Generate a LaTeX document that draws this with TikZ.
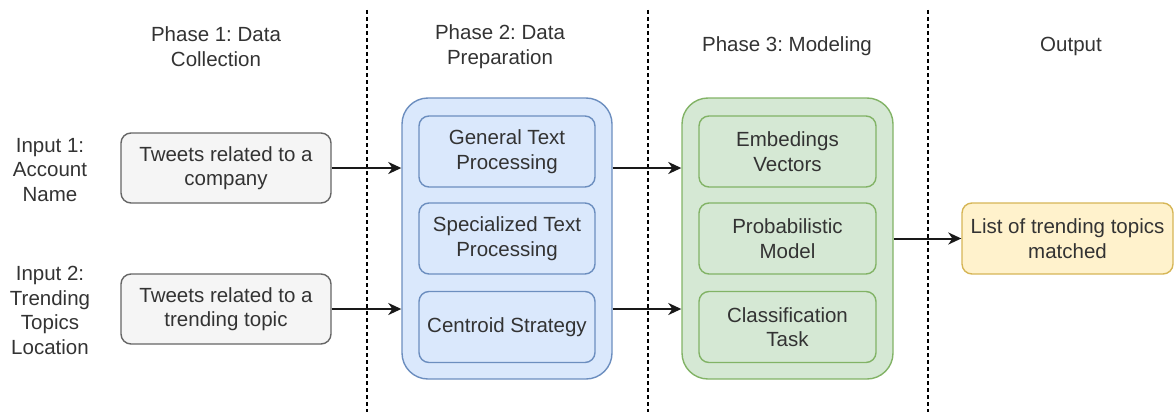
\documentclass[tikz,border=0pt]{standalone}
\usepackage{fontspec}
\setmainfont{Liberation Sans}
\usetikzlibrary{arrows.meta}

\definecolor{tweetfill}{HTML}{F5F5F5}
\definecolor{tweetline}{HTML}{666666}
\definecolor{prepfill}{HTML}{DAE8FC}
\definecolor{prepline}{HTML}{6C8EBF}
\definecolor{modelfill}{HTML}{D5E8D4}
\definecolor{modelline}{HTML}{82B366}
\definecolor{outfill}{HTML}{FFF2CC}
\definecolor{outline}{HTML}{D6B656}
\definecolor{ink}{HTML}{333333}

\frenchspacing
\tikzset{
  every node/.style={font=\fontsize{20.5}{24.5}\selectfont, text=ink, align=center, inner sep=0pt},
  box/.style={draw, line width=1.4pt, rounded corners=10pt},
  tweetbox/.style={box, fill=tweetfill, draw=tweetline, minimum width=210pt, minimum height=70pt},
  prepbox/.style={box, fill=prepfill, draw=prepline, minimum width=176pt, minimum height=71pt},
  modelbox/.style={box, fill=modelfill, draw=modelline, minimum width=177pt, minimum height=71pt},
  phasebox/.style={draw, line width=1.4pt, rounded corners=26pt, minimum height=281pt},
  arr/.style={-{Stealth[length=13pt, width=12pt, inset=4pt]}, line width=2pt, black!90},
  sep/.style={dashed, dash pattern=on 4pt off 3pt, line width=1.3pt, black}
}

\begin{document}
\begin{tikzpicture}[x=1pt, y=-1pt]
  \useasboundingbox (0,0) rectangle (1174,412);

  % phase separators
  \draw[sep] (367,10) -- (367,412);
  \draw[sep] (648,10) -- (648,412);
  \draw[sep] (928,10) -- (928,412);

  % column titles
  \node (t1) at (216,46.5) {Phase 1: Data\\Collection};
  \node (t2) at (500,46.5) {Phase 2: Data\\Preparation};
  \node (t3) at (787,46.5) {Phase 3: Modeling};
  \node (t4) at (1071,46.5) {Output};

  % inputs
  \node (in1) at (50,170) {Input 1:\\Account\\Name};
  \node (in2) at (50,310.5) {Input 2:\\Trending\\Topics\\Location};
  \node[tweetbox] (tw1) at (226,168) {Tweets related to a\\company};
  \node[tweetbox] (tw2) at (226,309) {Tweets related to a\\trending topic};

  % data preparation
  \node[phasebox, fill=prepfill, draw=prepline, minimum width=210pt] (prep) at (507,238.5) {};
  \node[prepbox] (gen) at (507,151.5) {General Text\\Processing};
  \node[prepbox] (spec) at (507,238.5) {Specialized Text\\Processing};
  \node[prepbox] (cent) at (507,327) {Centroid Strategy};

  % modeling
  \node[phasebox, fill=modelfill, draw=modelline, minimum width=211pt] (model) at (787.5,238.5) {};
  \node[modelbox] (emb) at (787.5,151.5) {Embedings\\Vectors};
  \node[modelbox] (prob) at (787.5,238.5) {Probabilistic\\Model};
  \node[modelbox] (cls) at (787.5,327) {Classification\\Task};

  % output
  \node[box, fill=outfill, draw=outline, minimum width=211pt, minimum height=71pt] (out) at (1067.5,238.5) {List of trending topics\\matched};

  \draw[arr] (tw1.east) -- (tw1.east -| prep.west);
  \draw[arr] (tw2.east) -- (tw2.east -| prep.west);
  \draw[arr] (prep.east |- tw1) -- (model.west |- tw1);
  \draw[arr] (prep.east |- tw2) -- (model.west |- tw2);
  \draw[arr] (model.east) -- (out.west);
\end{tikzpicture}
\end{document}
